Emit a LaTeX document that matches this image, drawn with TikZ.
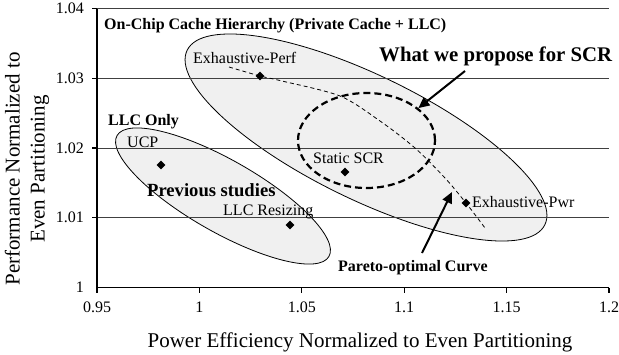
\documentclass[tikz,border=0pt]{standalone}
\usepackage{fontspec}
\setmainfont{Liberation Serif}
\usetikzlibrary{arrows.meta}
\usetikzlibrary{shapes.geometric}

\begin{document}
\begin{tikzpicture}[x=1pt,y=-1pt]
  \tikzstyle{gridline} = [draw=black!75, line width=1pt]
  \tikzstyle{axisline} = [draw=black, line width=1.3pt]
  \tikzstyle{ticklbl} = [inner sep=0pt, font=\fontsize{16}{16}\selectfont]
  \tikzstyle{lbl} = [anchor=base west, inner sep=0pt, font=\fontsize{16}{16}\selectfont]
  \tikzstyle{blbl} = [anchor=base west, inner sep=0pt, font=\fontsize{16}{16}\selectfont\bfseries]
  \tikzstyle{region} = [ellipse, draw=black, fill=black!6, line width=0.8pt, inner sep=0pt]
  \tikzstyle{datapt} = [diamond, fill=black, inner sep=0pt, minimum size=9pt]
  \tikzstyle{pointer} = [-{Triangle[length=11pt,width=10pt]}, line width=2pt]

  \useasboundingbox (0,0) rectangle (619,354);

  % shaded regions
  \node (llc) [region, minimum width=244pt, minimum height=72pt, rotate=-29.7] at (223,196) {};
  \node (chip) [region, minimum width=398pt, minimum height=124pt, rotate=-26] at (366,137.5) {};

  % grid, axes and ticks
  \foreach \k/\l in {1/1.01,2/1.02,3/1.03,4/1.04} {
    \draw[gridline] (97,287.5-69.75*\k) -- (609,287.5-69.75*\k);
    \node (yt\k) [ticklbl, anchor=east] at (84,287.5-69.75*\k) {\l};
    \draw[axisline] (92,287.5-69.75*\k) -- (97,287.5-69.75*\k);
  }
  \node (yt0) [ticklbl, anchor=east] at (84,287.5) {1};
  \draw[axisline] (97,8.5) -- (97,287.5) -- (609,287.5);
  \foreach \k/\l in {0/0.95,1/1,2/1.05,3/1.1,4/1.15,5/1.2} {
    \draw[axisline] (97+102.4*\k,287.5) -- (97+102.4*\k,292.5);
    \node (xt\k) [ticklbl, anchor=base] at (97+102.4*\k,312) {\l};
  }

  % proposed zone and pareto curve
  \node (scrzone) [ellipse, draw=black, line width=2.2pt, dash pattern=on 7pt off 4pt, minimum width=137pt, minimum height=95pt, inner sep=0pt] at (366.5,140.5) {};
  \draw[line width=0.8pt, dash pattern=on 4pt off 3pt] plot[smooth] coordinates {(229,67) (260,76) (282,81) (340,96) (380,121) (415,148) (445,178) (466,203) (485,228)};

  % data points
  \node (perf) [datapt] at (260,76) {};
  \node (ucp) [datapt] at (161,165) {};
  \node (resize) [datapt] at (290,225) {};
  \node (scr) [datapt] at (345,172) {};
  \node (pwr) [datapt] at (466,203) {};

  % labels
  \node (chiplbl) [blbl] at (104,29) {On-Chip Cache Hierarchy (Private Cache + LLC)};
  \node (propose) [blbl, font=\fontsize{20.8}{21}\selectfont\bfseries] at (379,61) {What we propose for SCR};
  \node (llclbl) [blbl] at (108,125) {LLC Only};
  \node (prevlbl) [blbl, font=\fontsize{18.6}{19}\selectfont\bfseries] at (147,196) {Previous studies};
  \node (paretolbl) [blbl] at (338,271) {Pareto-optimal Curve};
  \node (ucplbl) [lbl] at (127,147) {UCP};
  \node (perflbl) [lbl] at (193,63) {Exhaustive-Perf};
  \node (resizelbl) [lbl] at (223,215) {LLC Resizing};
  \node (scrlbl) [lbl] at (313,163) {Static SCR};
  \node (pwrlbl) [lbl] at (472,207) {Exhaustive-Pwr};

  % axis titles
  \node (xtitle) [anchor=base, inner sep=0pt, font=\fontsize{21}{24}\selectfont] at (360,347) {Power Efficiency Normalized to Even Partitioning};
  \node (ytitle) [rotate=90, align=center, inner sep=0pt, font=\fontsize{21}{25}\selectfont] at (27,169) {Performance Normalized to\\Even Partitioning};

  % arrows
  \coordinate (proposetail) at (465,71);
  \coordinate (paretotail) at (422,253);
  \coordinate (paretohead) at (452,192);
  \draw[pointer] (proposetail) -- (scrzone.32);
  \draw[pointer] (paretotail) -- (paretohead);
\end{tikzpicture}
\end{document}
